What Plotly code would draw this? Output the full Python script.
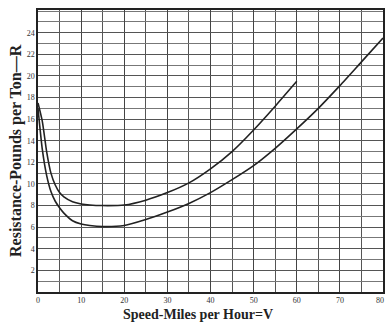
import plotly.graph_objects as go

# Upper curve (ends at 60 mph)
V_upper = [0, 1, 2, 3, 4, 5, 6, 8, 10, 12, 15, 20, 25, 30, 35, 40, 45, 50, 55, 60]
R_upper = [17.5, 15.8, 13.0, 11.0, 9.9, 9.2, 8.8, 8.35, 8.15, 8.05, 8.0, 8.05, 8.5, 9.2, 10.1, 11.4, 13.0, 15.0, 17.2, 19.5]

# Lower curve (to 80 mph)
V_lower = [0, 1, 2, 3, 4, 5, 6, 8, 10, 12, 15, 20, 25, 30, 35, 40, 45, 50, 55, 60, 65, 70, 75, 80]
R_lower = [17.0, 13.2, 10.8, 9.3, 8.4, 7.8, 7.3, 6.6, 6.3, 6.15, 6.05, 6.15, 6.7, 7.4, 8.2, 9.2, 10.4, 11.7, 13.3, 15.1, 17.0, 19.1, 21.3, 23.5]

x_ticks = [0, 10, 20, 30, 40, 50, 60, 70, 80]
y_ticks = [2, 4, 6, 8, 10, 12, 14, 16, 18, 20, 22, 24]

serif = "Liberation Serif, DejaVu Serif, serif"

fig = go.Figure()
for xs, ys in ((V_upper, R_upper), (V_lower, R_lower)):
    fig.add_trace(go.Scatter(x=xs, y=ys, mode="lines",
                             line=dict(color="#222", width=1.6, shape="spline", smoothing=0.6),
                             showlegend=False, hoverinfo="skip"))

fig.update_layout(
    width=386, height=323,
    margin=dict(l=38, r=3, t=10, b=31),
    paper_bgcolor="white", plot_bgcolor="white",
    font=dict(family=serif, color="#222"),
    xaxis=dict(
        range=[0, 80], tickvals=x_ticks[:-1], ticktext=[str(v) for v in x_ticks[:-1]],
        tickfont=dict(size=8, family=serif, color="#333"),
        showgrid=True, gridcolor="#444", gridwidth=1.2,
        minor=dict(dtick=5, tick0=0, showgrid=True, gridcolor="#555", gridwidth=1),
        showline=True, linecolor="#222", linewidth=1.5, mirror=True,
        ticks="", zeroline=False, automargin=False,
    ),
    yaxis=dict(
        range=[0, 26.1], tickvals=y_ticks, ticktext=[str(v) for v in y_ticks],
        tickfont=dict(size=8, family=serif, color="#333"),
        showgrid=True, gridcolor="#555", gridwidth=1,
        minor=dict(dtick=1, tick0=0, showgrid=True, gridcolor="#777", gridwidth=1),
        showline=True, linecolor="#222", linewidth=1.5, mirror=True,
        ticks="", zeroline=False, automargin=False,
    ),
    annotations=[
        dict(x=80, y=0, xref="x", yref="paper", text=str(x_ticks[-1]), showarrow=False,
             xanchor="right", yanchor="top", xshift=3, yshift=-2,
             font=dict(size=8, family=serif, color="#333")),
        dict(x=0.5, y=0, xref="paper", yref="paper", text="<b>Speed-Miles per Hour=V</b>",
             showarrow=False, xanchor="center", yanchor="middle", yshift=-22, xshift=-13,
             font=dict(size=14, family=serif, color="#222")),
        dict(x=0, y=0.5, xref="paper", yref="paper", text="<b>Resistance-Pounds per Ton—R</b>",
             showarrow=False, textangle=-90, xanchor="center", yanchor="middle", xshift=-22,
             font=dict(size=16, family=serif, color="#222")),
    ],
)

fig.write_html("out.html", config={"displayModeBar": False},
               post_script="document.body.style.margin='0';document.body.style.padding='0';")
